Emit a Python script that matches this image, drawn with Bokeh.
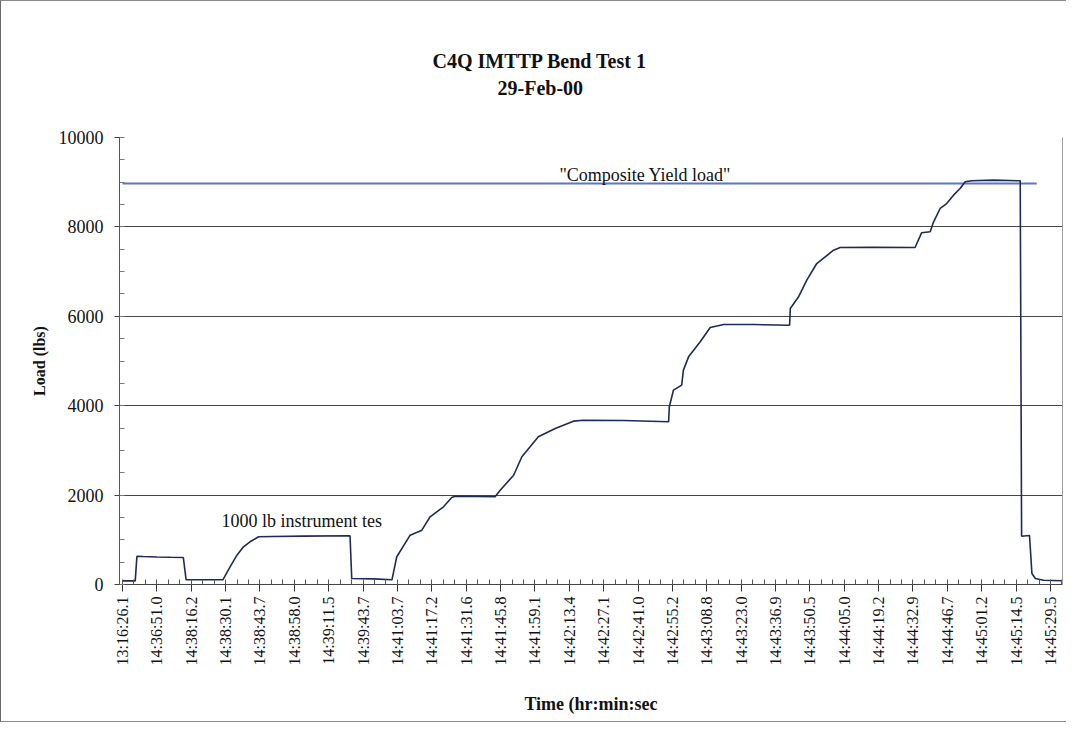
import math
from bokeh.plotting import figure
from bokeh.models import FixedTicker, LinearAxis, Range1d, Label, Title
from bokeh.embed import file_html
from bokeh.resources import INLINE

# ---------------- data ----------------
time_labels = [
    "13:16:26.1", "14:36:51.0", "14:38:16.2", "14:38:30.1", "14:38:43.7",
    "14:38:58.0", "14:39:11.5", "14:39:43.7", "14:41:03.7", "14:41:17.2",
    "14:41:31.6", "14:41:45.8", "14:41:59.1", "14:42:13.4", "14:42:27.1",
    "14:42:41.0", "14:42:55.2", "14:43:08.8", "14:43:23.0", "14:43:36.9",
    "14:43:50.5", "14:44:05.0", "14:44:19.2", "14:44:32.9", "14:44:46.7",
    "14:45:01.2", "14:45:14.5", "14:45:29.5",
]

# sample position (in units of the labelled time ticks) and load (lbs)
load_x = [
    0.00, 0.37, 0.42, 0.60, 1.00, 1.40, 1.77, 1.85, 2.40, 2.92,
    3.13, 3.33, 3.52, 3.71, 3.96, 4.39, 5.27, 6.62, 6.67, 7.30,
    7.84, 7.98, 8.37, 8.71, 8.95, 9.34, 9.58, 9.68, 10.84, 10.99,
    11.38, 11.62, 12.10, 12.59, 13.12, 13.41, 14.58, 15.89, 15.91, 16.03,
    16.27, 16.32, 16.47, 16.81, 17.10, 17.49, 18.36, 19.41, 19.43, 19.67,
    19.91, 20.20, 20.69, 20.88, 21.85, 23.06, 23.25, 23.50, 23.60, 23.79,
    23.98, 24.18, 24.37, 24.52, 24.71, 25.34, 26.12, 26.16, 26.39, 26.46,
    26.56, 26.80, 27.33,
]
load_lbs = [
    80, 80, 633, 625, 615, 608, 604, 110, 105, 105,
    396, 656, 843, 955, 1067, 1075, 1082, 1090, 134, 125,
    105, 620, 1103, 1215, 1515, 1738, 1946, 1975, 1962, 2110,
    2445, 2857, 3304, 3490, 3654, 3676, 3670, 3640, 3975, 4347,
    4459, 4795, 5093, 5429, 5750, 5817, 5815, 5801, 6174, 6436,
    6808, 7181, 7479, 7539, 7545, 7539, 7868, 7890, 8114, 8412,
    8523, 8710, 8859, 9009, 9031, 9046, 9031, 1081, 1096, 246,
    134, 96, 83,
]

yield_x = [0.0, 26.6]
yield_lbs = [8970, 8970]

y_ticks = [0, 2000, 4000, 6000, 8000, 10000]
grid_levels = [2000, 4000, 6000, 8000]

# ---------------- figure ----------------
SERIF = "Liberation Serif"

p = figure(
    width=1066, height=722,
    output_backend="svg", toolbar_location=None,
    x_range=Range1d(-0.087, 27.35), y_range=Range1d(0, 10000),
    min_border_left=118, min_border_right=5,
    min_border_top=136, min_border_bottom=139,
    background_fill_color="white", border_fill_color="white",
)
p.outline_line_color = None
p.styles = {
    "border-left": "1px solid #6a6a6a",
    "border-top": "1px solid #8a8a8a",
    "border-bottom": "1px solid #8a8a8a",
}

# titles (first added sits nearest the plot); a blank spacer lifts them
p.add_layout(Title(text=" ", text_font_size="1px", standoff=34), "above")
p.add_layout(Title(text="29-Feb-00", align="left", offset=378,
                   text_font=SERIF, text_font_style="bold",
                   text_font_size="20px", text_color="#111111",
                   standoff=4), "above")
p.add_layout(Title(text="C4Q IMTTP Bend Test 1", align="left", offset=313,
                   text_font=SERIF, text_font_style="bold",
                   text_font_size="20px", text_color="#111111",
                   standoff=2), "above")

# grid
p.xgrid.visible = False
p.ygrid.ticker = FixedTicker(ticks=grid_levels)
p.ygrid.grid_line_color = "#474747"
p.ygrid.grid_line_width = 1

# y axis
yax = p.yaxis[0]
yax.ticker = FixedTicker(ticks=y_ticks,
                         minor_ticks=[y_ticks[0] + 500 * k for k in range(21)])
yax.axis_line_color = "#555555"
yax.major_tick_line_color = "#444444"
yax.minor_tick_line_color = "#777777"
yax.major_tick_out = 5
yax.major_tick_in = 4
yax.minor_tick_out = 0
yax.minor_tick_in = 5
yax.major_label_standoff = 11
yax.major_label_text_font = SERIF
yax.major_label_text_font_size = "18px"
yax.major_label_text_color = "#111111"
yax.axis_label = "Load (lbs)"
yax.axis_label_text_font = SERIF
yax.axis_label_text_font_style = "bold"
yax.axis_label_text_font_size = "16px"
yax.axis_label_text_color = "#111111"
yax.axis_label_standoff = 8

# x axis
n = len(time_labels)
xax = p.xaxis[0]
xax.ticker = FixedTicker(ticks=list(range(n)),
                         minor_ticks=[k / 3 for k in range(3 * n)])
xax.major_label_overrides = {i: lab for i, lab in enumerate(time_labels)}
xax.major_label_orientation = math.pi / 2
xax.axis_line_color = "#444444"
xax.major_tick_line_color = "#333333"
xax.minor_tick_line_color = "#555555"
xax.major_tick_out = 7
xax.major_tick_in = 0
xax.minor_tick_out = 0
xax.minor_tick_in = 5
xax.major_label_standoff = 5
xax.major_label_text_font = SERIF
xax.major_label_text_font_size = "16px"
xax.major_label_text_color = "#111111"
xax.axis_label = "Time (hr:min:sec"
xax.axis_label_text_font = SERIF
xax.axis_label_text_font_style = "bold"
xax.axis_label_text_font_size = "18px"
xax.axis_label_text_color = "#111111"
xax.axis_label_standoff = 26

# right border of the plot area
rax = LinearAxis(ticker=FixedTicker(ticks=[]), axis_line_color="#a0a0a0",
                 major_tick_line_color=None, minor_tick_line_color=None,
                 major_label_text_font_size="0px")
p.add_layout(rax, "right")

# series
p.line(yield_x, yield_lbs, line_color="#5b77c6", line_width=2)
p.line(load_x, load_lbs, line_color="#1f2a55", line_width=1.6)

# texts
p.add_layout(Label(x=15.21, y=9150, text='"Composite Yield load"',
                   text_align="center", text_baseline="middle",
                   text_font=SERIF, text_font_size="18px", text_color="#111111"))
p.add_layout(Label(x=2.88, y=1420, text="1000 lb instrument tes",
                   text_align="left", text_baseline="middle",
                   text_font=SERIF, text_font_size="18px", text_color="#111111"))

open("out.html", "w").write(file_html(p, INLINE))
